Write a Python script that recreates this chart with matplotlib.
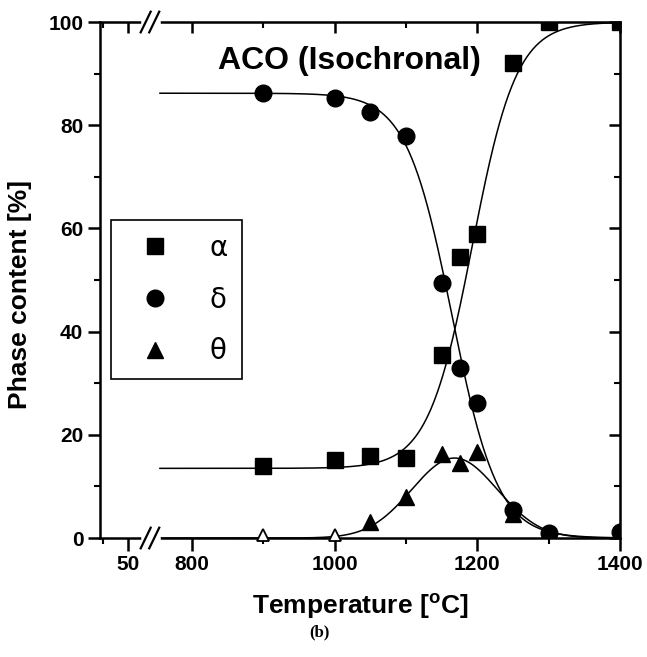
import numpy as np
import matplotlib
matplotlib.use("Agg")
import matplotlib.pyplot as plt
from matplotlib.lines import Line2D

# valores (temperatura en °C, contenido de fase en %)
temp = [900, 1000, 1050, 1100, 1150, 1175, 1200, 1250, 1300, 1400]
alpha = [14.0, 15.2, 15.8, 15.6, 35.5, 54.5, 59.0, 92.0, 100.0, 100.0]
delta = [86.2, 85.3, 82.5, 78.0, 49.5, 33.0, 26.2, 5.5, 1.0, 1.2]
theta_temp = [1050, 1100, 1150, 1175, 1200, 1250, 1300]
theta = [3.2, 8.0, 16.2, 14.5, 16.6, 4.6, 0.8]
theta_zero_temp = [900, 1000]
theta_zero = [0.5, 0.5]

# curvas de ajuste (Boltzmann / Gauss), parametros estimados del grafico
fit_start, fit_end = 755, 1400
alpha_fit = dict(low=13.5, high=100.0, x0=1193, dx=31)
delta_fit = dict(low=0.0, high=86.2, x0=1164.5, dx=32)
theta_fit = dict(peak=15.5, xc=1168, w=60)

xtick_pos = [710, 800, 1000, 1200, 1400]
xtick_lab = ["50", "800", "1000", "1200", "1400"]
xminor_pos = [675, 900, 1100, 1300]
break_x = 741


def boltzmann(x, low, high, x0, dx):
    return low + (high - low) / (1 + np.exp(-(x - x0) / dx))


def gauss(x, peak, xc, w):
    return peak * np.exp(-(x - xc) ** 2 / (2 * w ** 2))


plt.rcParams['font.family'] = ['Liberation Sans', 'DejaVu Sans']
plt.rcParams['font.weight'] = 'bold'

fig = plt.figure(figsize=(6.47, 6.57), dpi=100)
ax = fig.add_axes([0.1546, 0.1811, 0.8037, 0.7854])

xs = np.linspace(fit_start, fit_end, 600)
ax.plot(xs, boltzmann(xs, **alpha_fit), color='black', lw=1.1)
ax.plot(xs, boltzmann(xs, delta_fit['high'], delta_fit['low'],
                      delta_fit['x0'], delta_fit['dx']), color='black', lw=1.1)
ax.plot(xs, gauss(xs, **theta_fit), color='black', lw=1.1)

ax.plot(temp, alpha, 's', color='black', ms=11, zorder=5)
ax.plot(temp, delta, 'o', color='black', ms=12, zorder=5)
ax.plot(theta_temp, theta, '^', color='black', ms=12, zorder=5)
ax.plot(theta_zero_temp, theta_zero, '^', mfc='white', mec='black', mew=1.3,
        ms=8, zorder=5, clip_on=False)

ax.set_xlim(671, 1400)
ax.set_ylim(0, 100)

for s in ax.spines.values():
    s.set_linewidth(1.8)

ax.set_xticks(xtick_pos)
ax.set_xticklabels(xtick_lab)
ax.set_xticks(xminor_pos, minor=True)
ax.set_yticks([0, 20, 40, 60, 80, 100])
ax.set_yticks([10, 30, 50, 70, 90], minor=True)
ax.tick_params(which='major', direction='out', length=9, width=1.8,
               labelsize=15, pad=3)
ax.tick_params(which='minor', direction='out', length=4.5, width=1.5)
for lab in ax.get_xticklabels() + ax.get_yticklabels():
    lab.set_fontweight('bold')

# ticks hacia dentro arriba y a la derecha
top = ax.secondary_xaxis('top')
top.set_xticks(xtick_pos)
top.set_xticks(xminor_pos, minor=True)
top.tick_params(which='major', direction='in', length=8, width=1.8, labeltop=False)
top.tick_params(which='minor', direction='in', length=4.5, width=1.5)
right = ax.secondary_yaxis('right')
right.set_yticks([0, 20, 40, 60, 80, 100])
right.set_yticks([10, 30, 50, 70, 90], minor=True)
right.tick_params(which='major', direction='in', length=8, width=1.8, labelright=False)
right.tick_params(which='minor', direction='in', length=4.5, width=1.5)

# marcas de corte del eje x
trans = ax.get_xaxis_transform()
for yb in (0, 1):
    ax.plot([break_x - 9, break_x + 11], [yb, yb], color='white', lw=4,
            transform=trans, clip_on=False, zorder=6)
    for dxb in (-6, 6):
        ax.plot([break_x + dxb - 7, break_x + dxb + 7], [yb - 0.02, yb + 0.02],
                color='black', lw=1.6, transform=trans, clip_on=False, zorder=7)

ax.set_xlabel('Temperature [$\\mathregular{^{o}}$C]', fontsize=19,
              fontweight='bold', labelpad=13)
ax.set_ylabel('Phase content [%]', fontsize=19, fontweight='bold')
ax.yaxis.set_label_coords(-0.13, 0.471)

ax.text(0.48, 0.925, 'ACO (Isochronal)', transform=ax.transAxes,
        ha='center', va='center', fontsize=23, fontweight='bold')

handles = [Line2D([], [], marker='s', color='black', ls='none', ms=11),
           Line2D([], [], marker='o', color='black', ls='none', ms=12),
           Line2D([], [], marker='^', color='black', ls='none', ms=12)]
leg = ax.legend(handles, ['α', 'δ', 'θ'], loc='upper left',
                bbox_to_anchor=(0.021, 0.616), bbox_transform=ax.transAxes,
                borderaxespad=0, borderpad=0.5, handlelength=2.16,
                handletextpad=0.9, labelspacing=0.85, fancybox=False,
                framealpha=1, edgecolor='black',
                prop={'family': 'DejaVu Sans', 'weight': 'normal', 'size': 20})
leg.get_frame().set_linewidth(1.2)

fig.text(0.494, 0.038, '(b)', ha='center', va='center', fontsize=12,
         fontweight='bold', family='Liberation Serif')

fig.savefig('out.png', dpi=100)
